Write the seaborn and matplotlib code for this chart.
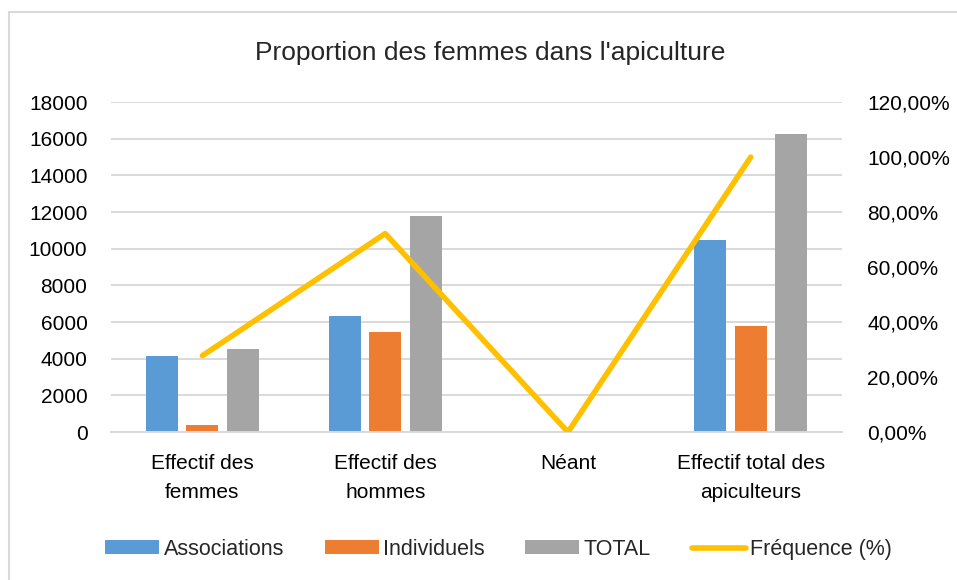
import numpy as np
import pandas as pd
import matplotlib
matplotlib.use('Agg')
import matplotlib.pyplot as plt
import seaborn as sns
from matplotlib.ticker import FuncFormatter
from matplotlib.lines import Line2D

# données
categories = ['Effectif des\nfemmes', 'Effectif des\nhommes', 'Néant',
              'Effectif total des\napiculteurs']
associations = [4160, 6330, 0, 10470]
individuels = [380, 5440, 0, 5800]
total = [4530, 11770, 0, 16270]
frequence = [0.278, 0.722, 0.0, 1.0]

series = ['Associations', 'Individuels', 'TOTAL']
colors = ['#5B9BD5', '#ED7D31', '#A5A5A5']
line_color = '#FFC000'
grid_color = '#D9D9D9'

df = pd.DataFrame({
    'cat': categories * 3,
    'val': associations + individuels + total,
    'serie': np.repeat(series, len(categories)),
})

sns.set_theme(style='white')
plt.rcParams['font.family'] = ['Liberation Sans', 'DejaVu Sans']

fig = plt.figure(figsize=(9.57, 5.8), dpi=100)
ax = fig.add_axes([0.116, 0.255, 0.764, 0.569])

sns.barplot(data=df, x='cat', y='val', hue='serie', palette=colors,
            hue_order=series, order=categories, width=0.666, gap=0.21,
            linewidth=0, saturation=1, ax=ax, legend=True)

ax.set_ylim(0, 18000)
ax.set_yticks(np.arange(0, 18001, 2000))
ax.set_xlim(-0.5, 3.5)
ax.set_xlabel('')
ax.set_ylabel('')
ax.yaxis.grid(True, color=grid_color, lw=1.4)
ax.set_axisbelow(True)
for s in ['left', 'right', 'top']:
    ax.spines[s].set_visible(False)
ax.spines['bottom'].set_color(grid_color)
ax.spines['bottom'].set_linewidth(1.4)
ax.tick_params(axis='y', length=0, pad=17, labelsize=15, colors='#000000')
ax.tick_params(axis='x', length=0, pad=16, labelsize=15, colors='#000000')
for lab in ax.get_xticklabels():
    lab.set_linespacing(1.65)

handles, labels = ax.get_legend_handles_labels()
ax.get_legend().remove()

# fréquence sur l'axe secondaire
ax2 = ax.twinx()
sns.lineplot(x=np.arange(len(categories)), y=frequence, color=line_color,
             lw=4, solid_capstyle='round', ax=ax2)
ax2.set_ylim(0, 1.2)
ax2.set_yticks(np.arange(0, 1.21, 0.2))
ax2.yaxis.set_major_formatter(
    FuncFormatter(lambda v, p: f'{v * 100:.2f}%'.replace('.', ',')))
for s in ax2.spines.values():
    s.set_visible(False)
ax2.tick_params(axis='y', length=0, pad=18, labelsize=15, colors='#000000')

handles.append(Line2D([], [], color=line_color, lw=4, solid_capstyle='round'))
labels.append('Fréquence (%)')
fig.legend(handles, labels, loc='center', bbox_to_anchor=(0.521, 0.053),
           ncol=4, frameon=False, fontsize=15.5, handlelength=2.5,
           handleheight=0.6, handletextpad=0.2, columnspacing=1.9)

fig.text(0.512, 0.908, "Proportion des femmes dans l'apiculture",
         ha='center', va='center', fontsize=19)

# cadre du graphique
fig.add_artist(Line2D([9 / 957, 9 / 957], [0, 1 - 12 / 580], color=grid_color,
                      lw=1.5, transform=fig.transFigure))
fig.add_artist(Line2D([9 / 957, 1], [1 - 12 / 580, 1 - 12 / 580],
                      color=grid_color, lw=1.5, transform=fig.transFigure))

fig.savefig('out.png', dpi=100)
